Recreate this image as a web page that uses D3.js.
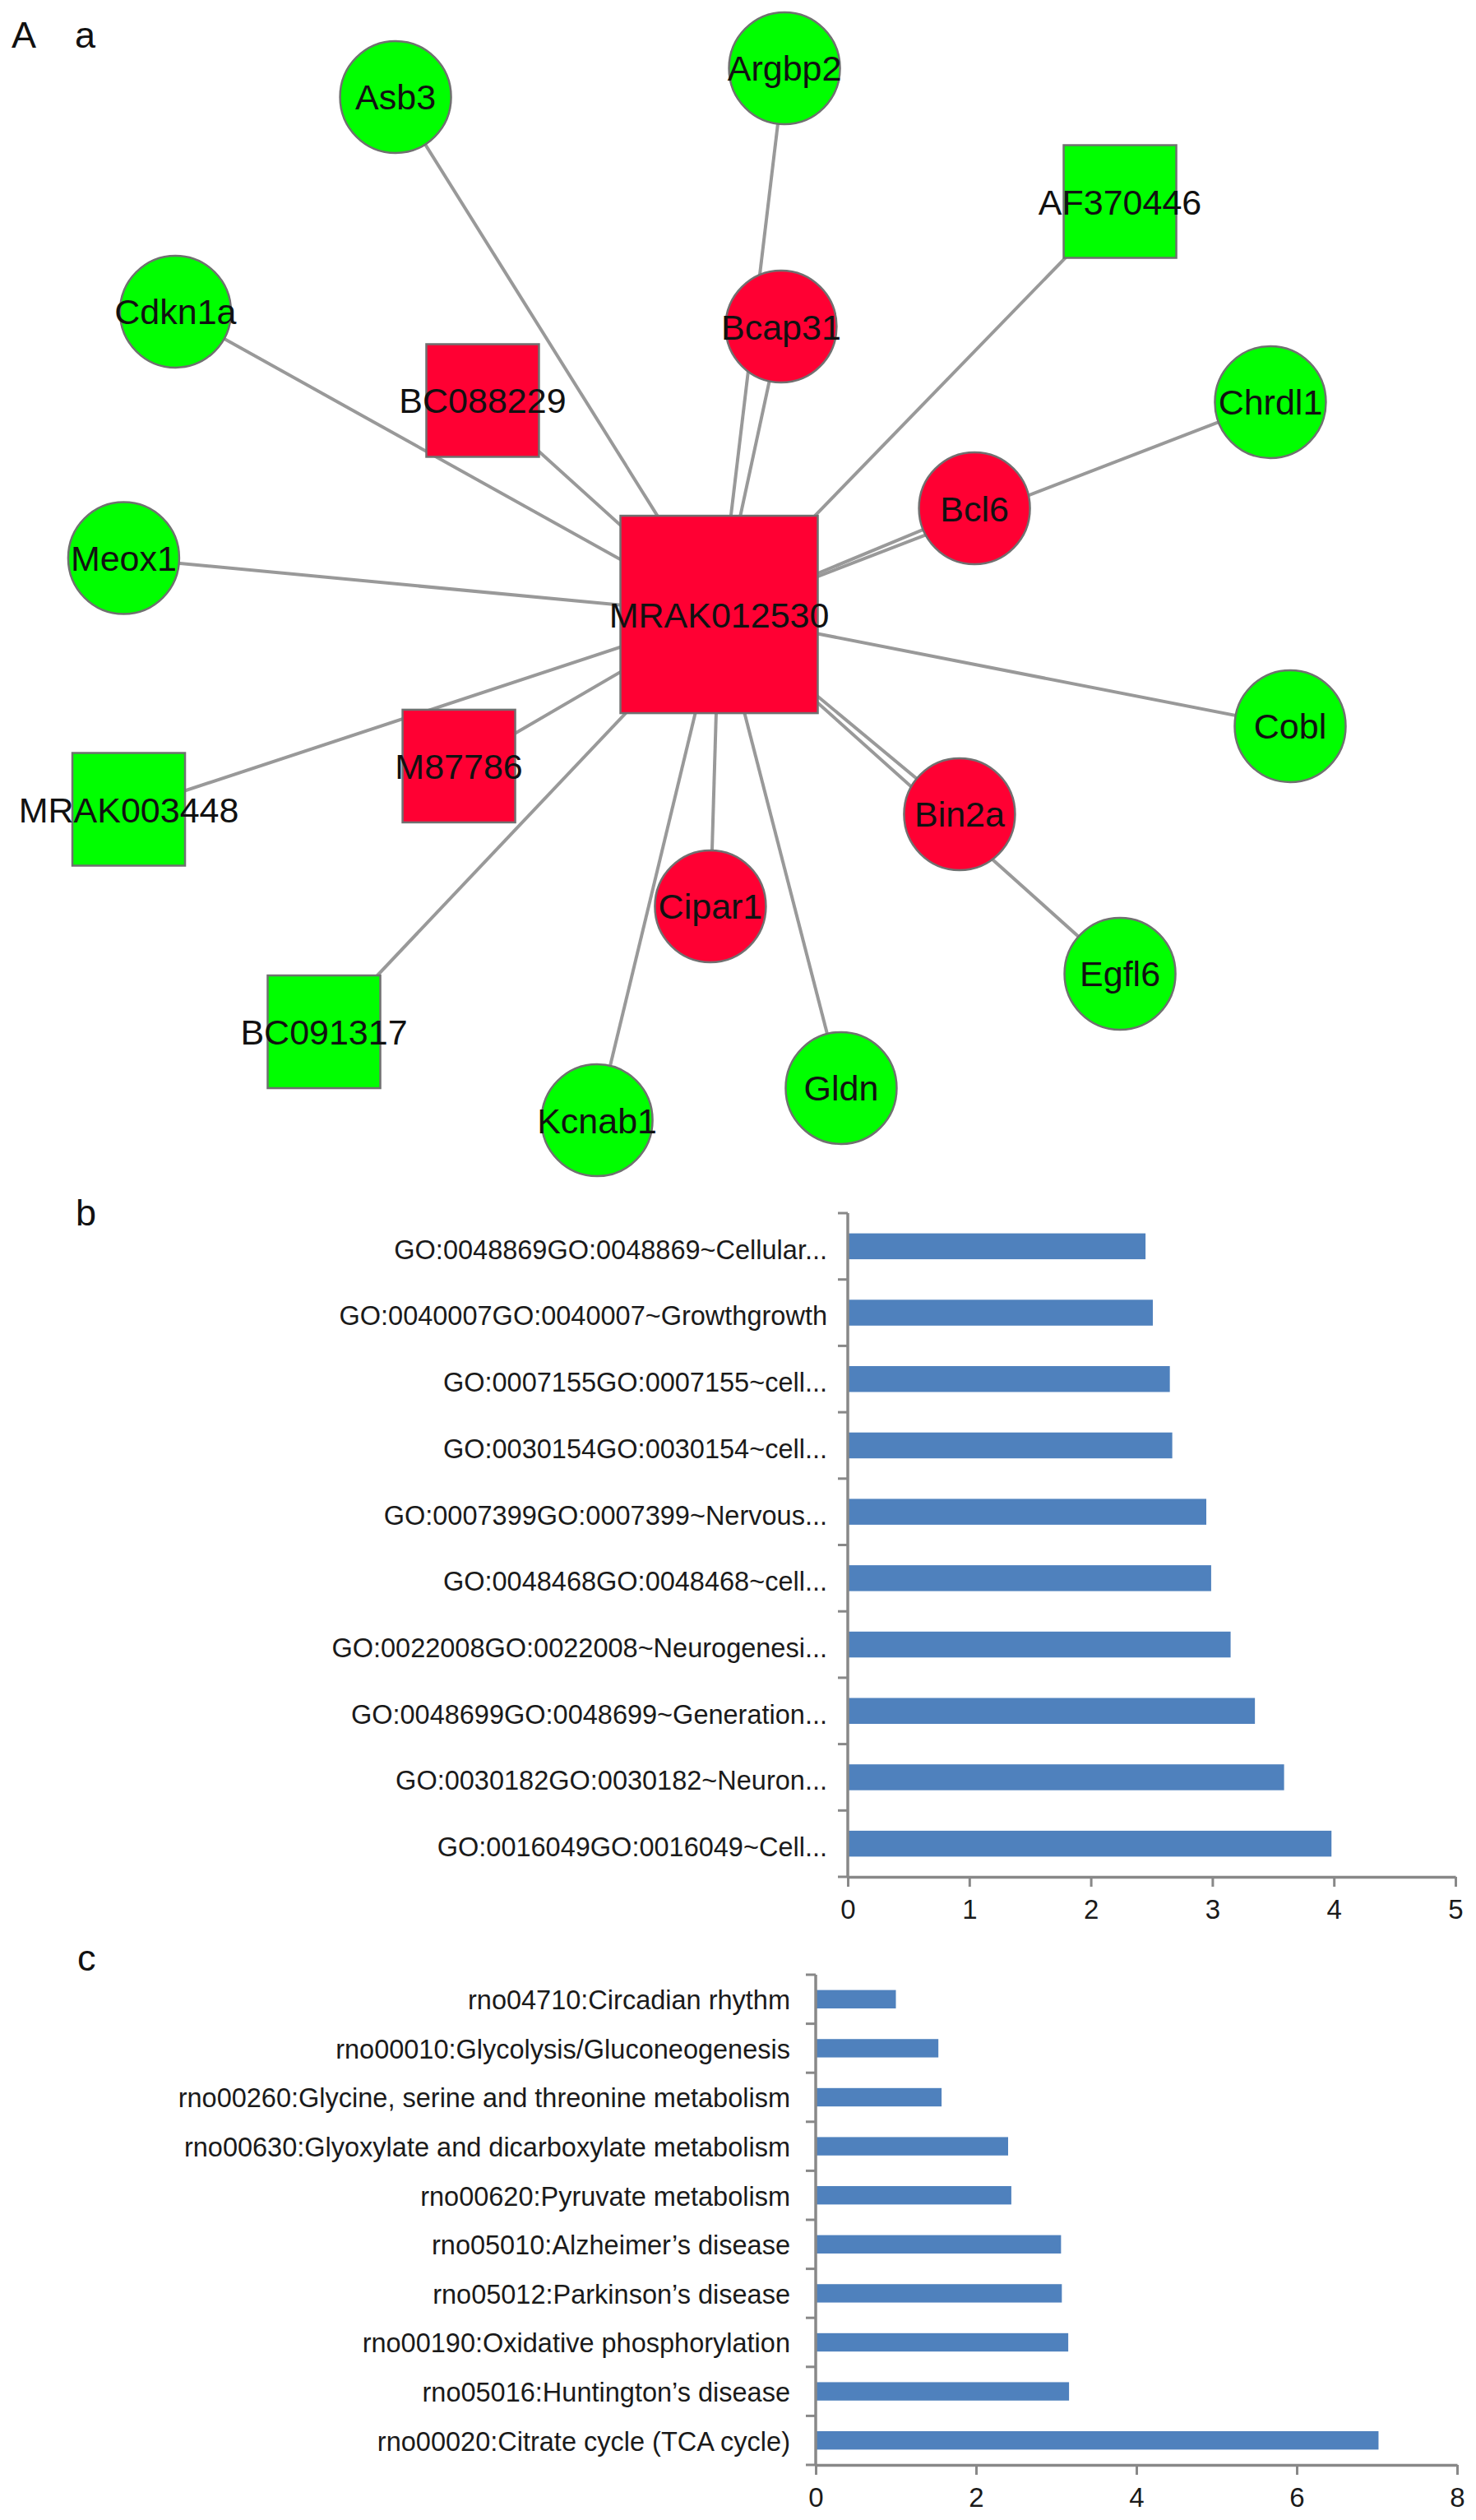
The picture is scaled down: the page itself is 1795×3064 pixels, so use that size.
<!DOCTYPE html>
<html><head><meta charset="utf-8">
<script src="https://cdn.jsdelivr.net/npm/d3@7"></script>
<style>
body{margin:0;background:#fff}
svg{display:block;font-family:"Liberation Sans",Arial,Helvetica,sans-serif}
</style>
</head><body>
<svg id="fig" width="1795" height="3064"></svg>
<script>
// ---------- Panel a: network data ----------
const nodeNames = ["MRAK012530","Asb3","Argbp2","AF370446","Cdkn1a","BC088229","Bcap31","Chrdl1","Bcl6","Meox1","Cobl","M87786","MRAK003448","Bin2a","Cipar1","BC091317","Egfl6","Gldn","Kcnab1"];
const nodeKinds = ["lncRNA","mRNA","mRNA","lncRNA","mRNA","lncRNA","mRNA","mRNA","mRNA","mRNA","mRNA","lncRNA","lncRNA","mRNA","mRNA","lncRNA","mRNA","mRNA","mRNA"];
const nodeRegulation = ["up","down","down","down","down","up","up","down","up","down","down","up","down","up","up","down","down","down","down"];
// layout coordinates (layout units)
const nodeLayoutX = [48.72,26.80,53.15,75.88,11.89,32.70,52.92,86.07,66.02,8.38,87.41,31.09,8.72,65.01,48.13,21.95,75.88,56.99,40.45];
const nodeLayoutY = [41.62,6.57,4.62,13.65,21.11,27.13,22.12,27.24,34.43,37.80,49.19,51.89,54.82,55.15,61.39,69.89,65.96,73.70,75.88];
const edgeList = [
  ["MRAK012530","Asb3"],["MRAK012530","Argbp2"],["MRAK012530","AF370446"],["MRAK012530","Cdkn1a"],
  ["MRAK012530","BC088229"],["MRAK012530","Bcap31"],["MRAK012530","Chrdl1"],["MRAK012530","Bcl6"],
  ["MRAK012530","Meox1"],["MRAK012530","Cobl"],["MRAK012530","M87786"],["MRAK012530","MRAK003448"],
  ["MRAK012530","Bin2a"],["MRAK012530","Cipar1"],["MRAK012530","BC091317"],["MRAK012530","Egfl6"],
  ["MRAK012530","Gldn"],["MRAK012530","Kcnab1"]
];

// ---------- Panel b: GO terms ----------
const goTerms = [
  "GO:0048869GO:0048869~Cellular...",
  "GO:0040007GO:0040007~Growthgrowth",
  "GO:0007155GO:0007155~cell...",
  "GO:0030154GO:0030154~cell...",
  "GO:0007399GO:0007399~Nervous...",
  "GO:0048468GO:0048468~cell...",
  "GO:0022008GO:0022008~Neurogenesi...",
  "GO:0048699GO:0048699~Generation...",
  "GO:0030182GO:0030182~Neuron...",
  "GO:0016049GO:0016049~Cell..."
];
const goValues = [2.45, 2.51, 2.65, 2.67, 2.95, 2.99, 3.15, 3.35, 3.59, 3.98];
const goTicks = [0,1,2,3,4,5];

// ---------- Panel c: KEGG pathways ----------
const keggTerms = [
  "rno04710:Circadian rhythm",
  "rno00010:Glycolysis/Gluconeogenesis",
  "rno00260:Glycine, serine and threonine metabolism",
  "rno00630:Glyoxylate and dicarboxylate metabolism",
  "rno00620:Pyruvate metabolism",
  "rno05010:Alzheimer’s disease",
  "rno05012:Parkinson’s disease",
  "rno00190:Oxidative phosphorylation",
  "rno05016:Huntington’s disease",
  "rno00020:Citrate cycle (TCA cycle)"
];
const keggValues = [1.00, 1.53, 1.57, 2.40, 2.44, 3.06, 3.07, 3.15, 3.16, 7.02];
const keggTicks = [0,2,4,6,8];

const panelLetters = ["A","a","b","c"];

// =========================================================
const svg = d3.select("#fig");
const FONT = '"Liberation Sans",Arial,Helvetica,sans-serif';

// panel letters
const letterPos = [[14,58],[91,58],[92,1490],[94,2396]];
svg.selectAll("text.panel").data(panelLetters).join("text")
  .attr("class","panel")
  .attr("x",(d,i)=>letterPos[i][0]).attr("y",(d,i)=>letterPos[i][1])
  .attr("font-size",45).attr("fill","#111").text(d=>d);

// ---------- network ----------
const nodes = nodeNames.map((n,i)=>({name:n,kind:nodeKinds[i],reg:nodeRegulation[i],lx:nodeLayoutX[i],ly:nodeLayoutY[i]}));
const byName = new Map(nodes.map(n=>[n.name,n]));
nodes.forEach(n=>n.degree = edgeList.filter(e=>e[0]===n.name||e[1]===n.name).length);
const nx = d3.scaleLinear().domain([0,100]).range([0,1795]);
const ny = d3.scaleLinear().domain([0,80]).range([0,1436]);
const sizeScale = d3.scaleLinear().domain([1,18]).range([137,240]);
const regColor = d3.scaleOrdinal().domain(["up","down"]).range(["#ff0033","#00ff00"]);

const gNet = svg.append("g");
gNet.selectAll("line.edge").data(edgeList).join("line")
  .attr("class","edge")
  .attr("x1",d=>nx(byName.get(d[0]).lx)).attr("y1",d=>ny(byName.get(d[0]).ly))
  .attr("x2",d=>nx(byName.get(d[1]).lx)).attr("y2",d=>ny(byName.get(d[1]).ly))
  .attr("stroke","#999").attr("stroke-width",4);

const nodeG = gNet.selectAll("g.node").data(nodes).join("g")
  .attr("class","node")
  .attr("transform",d=>`translate(${nx(d.lx)},${ny(d.ly)})`);
nodeG.filter(d=>d.kind==="lncRNA").append("rect")
  .attr("x",d=>-sizeScale(d.degree)/2).attr("y",d=>-sizeScale(d.degree)/2)
  .attr("width",d=>sizeScale(d.degree)).attr("height",d=>sizeScale(d.degree))
  .attr("fill",d=>regColor(d.reg)).attr("stroke","#707070").attr("stroke-width",2.5);
nodeG.filter(d=>d.kind==="mRNA").append("ellipse")
  .attr("rx",67.5).attr("ry",68)
  .attr("fill",d=>regColor(d.reg)).attr("stroke","#707070").attr("stroke-width",2.5);
nodeG.append("text")
  .attr("text-anchor","middle").attr("dy","0.36em")
  .attr("font-size",43).attr("fill","#111")
  .text(d=>d.name);

// ---------- bar chart helper ----------
function barChart(opts){
  const g = svg.append("g");
  const x = d3.scaleLinear().domain(opts.domain).range([opts.x0, opts.x1]);
  const y = d3.scaleBand().domain(opts.cats).range([opts.y0, opts.y1]).padding(0);
  const bh = y.bandwidth()*opts.barFrac;
  const axisColor = "#888";
  g.selectAll("rect.bar").data(opts.cats).join("rect")
    .attr("class","bar")
    .attr("x",x(0))
    .attr("y",d=>y(d)+(y.bandwidth()-bh)/2)
    .attr("width",(d,i)=>x(opts.values[i])-x(0))
    .attr("height",bh)
    .attr("fill","#4f81bd");
  g.selectAll("text.cat").data(opts.cats).join("text")
    .attr("class","cat")
    .attr("x",opts.labelRight)
    .attr("y",d=>y(d)+y.bandwidth()/2+opts.labelShift)
    .attr("dy","0.35em")
    .attr("text-anchor","end")
    .attr("font-size",opts.labelSize).attr("fill","#1a1a1a")
    .text(d=>d);
  const bounds = opts.cats.map(c=>y(c)).concat([opts.y1]);
  g.selectAll("line.btick").data(bounds).join("line")
    .attr("class","btick")
    .attr("x1",x(0)-12).attr("x2",x(0))
    .attr("y1",d=>d).attr("y2",d=>d)
    .attr("stroke",axisColor).attr("stroke-width",3);
  g.append("line").attr("x1",x(0)).attr("x2",x(0)).attr("y1",opts.y0).attr("y2",opts.y1)
    .attr("stroke",axisColor).attr("stroke-width",3.5);
  const ax = g.append("g").attr("transform",`translate(0,${opts.y1})`)
    .call(d3.axisBottom(x).tickValues(opts.ticks).tickSize(12).tickSizeOuter(0).tickPadding(16).tickFormat(d3.format("d")));
  ax.select(".domain").attr("stroke",axisColor).attr("stroke-width",3.5);
  ax.selectAll(".tick line").attr("stroke",axisColor).attr("stroke-width",3);
  ax.selectAll(".tick text").attr("font-size",33).attr("font-family",FONT).attr("fill","#1a1a1a");
}

barChart({cats:goTerms, values:goValues, ticks:goTicks, domain:[0,5],
  x0:1031, x1:1770, y0:1475, y1:2282, barFrac:0.39, labelRight:1006, labelShift:4, labelSize:32.5});
barChart({cats:keggTerms, values:keggValues, ticks:keggTicks, domain:[0,8],
  x0:992, x1:1772, y0:2401, y1:2997, barFrac:0.375, labelRight:961, labelShift:1, labelSize:32.5});
</script>
</body></html>
